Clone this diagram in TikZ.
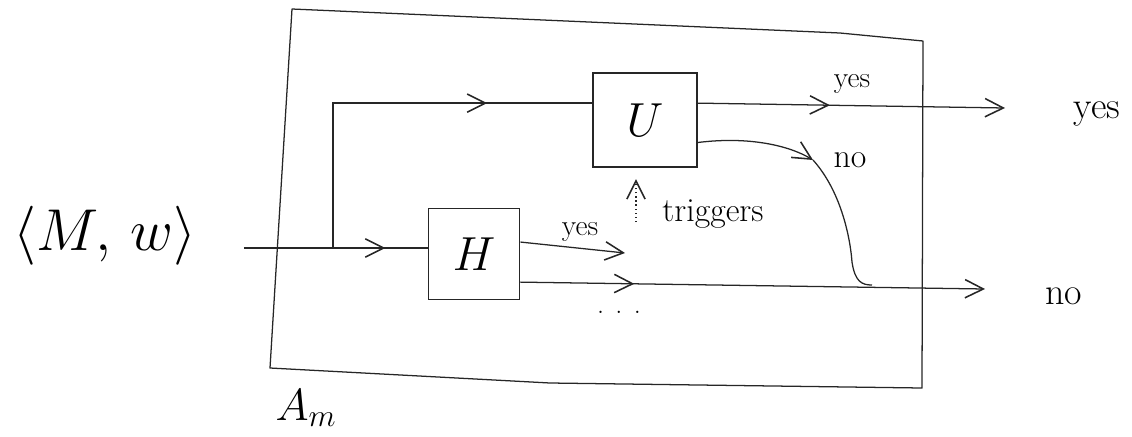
\RequirePackage{fix-cm}
\documentclass[tikz,border=0pt]{standalone}
\usetikzlibrary{arrows.meta,decorations.markings}
\begin{document}
\begin{tikzpicture}[x=0.025cm,y=-0.025cm,
  >={Straight Barb[length=13pt,width=13pt,line width=1.1pt]},
  ink/.style={draw=black!85,line width=0.9pt},
  frame/.style={draw=black!85,line width=0.9pt,line join=round},
  chev/.style={postaction={decorate,decoration={markings,
      mark=at position #1 with {\arrow{>}}}}},
  unit/.style={draw=black!85,line width=1.1pt,inner sep=0pt,
      font=\fontsize{34}{34}\selectfont},
  lbl/.style={inner sep=0pt,font=\fontsize{21}{21}\selectfont},
  outlbl/.style={inner sep=0pt,font=\fontsize{27}{27}\selectfont},
]
\useasboundingbox (0,0) rectangle (1132,436);

% machine A_m: the enclosing frame and its name
\draw[frame] (292,9) -- (270,368) -- (550,383) -- (922,388)
  -- (923,41) -- (840,33) -- cycle;
\node[font=\fontsize{32}{32}\selectfont] (Am) at (306,408) {$A_m$};

% input and the two inner machines
\node[font=\fontsize{42}{42}\selectfont] (Min) at (105,236) {$\langle M,\, w\rangle$};
\node[unit,minimum width=74pt,minimum height=67pt] (U) at (645,120) {$U$};
\node[unit,minimum width=65pt,minimum height=65pt] (H) at (474,254) {$H$};

% answers and remarks
\node[lbl] (uyes) at (852,84) {yes};
\node[lbl,font=\fontsize{24}{24}\selectfont] (uno) at (850,160) {no};
\node[lbl] (hyes) at (580,232) {yes};
\node[lbl,font=\fontsize{24}{24}\selectfont] (trig) at (713,214) {triggers};
\node[outlbl] (yesOut) at (1097,114) {yes};
\node[outlbl] (noOut) at (1064,296) {no};
\node[inner sep=0pt,anchor=base,font=\fontsize{20}{20}\selectfont] (dots) at (619,313)
  {.\hspace{8pt}.\hspace{8pt}.};

% junctions and free ends
\coordinate (split) at (333,248);
\coordinate (yesEnd) at (1005,108);
\coordinate (noEnd) at (985,289);
\coordinate (hyEnd) at (625,253);
\coordinate (unoTip) at (813,160);
\coordinate (merge) at (872,285);
\coordinate (trigFoot) at (636,222);

% input fed to H and, through the branch, to U
\draw[ink,chev=0.77] ([xshift=30pt]Min.east |- split) -- (split) -- (split -| H.west);
\draw[ink,chev=0.74] (split) |- ([yshift=12pt]U.west);

% outputs of U
\draw[ink,chev=0.43,->] ([yshift=12pt]U.east) -- (yesEnd);
\draw[ink,->] ([yshift=-16pt]U.east) .. controls (750,136) and (790,146) .. (unoTip);
\draw[ink] (unoTip) .. controls (840,190) and (850,235) .. (852,262)
  .. controls (855,282) and (862,285) .. (merge);

% outputs of H
\draw[ink,->] ([yshift=8.5pt]H.east) -- (hyEnd);
\draw[ink,chev=0.245,->] ([yshift=-20pt]H.east) -- (noEnd);

% H's yes starts U
\draw[ink,dotted,line width=1.2pt,->,shorten >=8pt] (trigFoot) -- (trigFoot |- U.south);
\end{tikzpicture}
\end{document}
